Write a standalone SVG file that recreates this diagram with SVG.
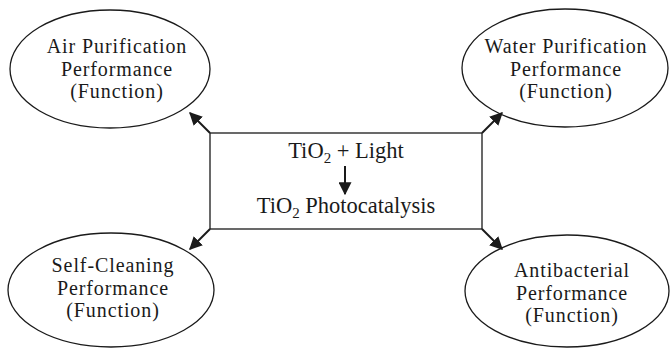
<svg xmlns="http://www.w3.org/2000/svg" width="671" height="348" viewBox="0 0 671 348">
<style>
.n{fill:#fff;stroke:#1a1a1a;stroke-width:1.3}
.t{font-family:"Liberation Serif","Times New Roman",serif;font-size:22.5px;fill:#1a1a1a;text-anchor:middle}
.e{font-family:"Liberation Serif","Times New Roman",serif;font-size:20px;letter-spacing:0.9px;fill:#1a1a1a;text-anchor:middle}
.c{stroke:#1a1a1a;stroke-width:2;fill:none}
</style>
<defs>
<marker id="ah2" viewBox="0 0 10 10" refX="9" refY="5" markerWidth="13" markerHeight="13" markerUnits="userSpaceOnUse" orient="auto">
<path d="M0,0 L10,5 L0,10 z" fill="#1a1a1a"/>
</marker>
</defs>
<g id="center">
<rect class="n" x="210" y="133" width="272" height="96"/>
<text class="t" x="346" y="158">TiO<tspan font-size="15" dy="5">2</tspan><tspan dy="-5"> + Light</tspan></text>
<text class="t" x="346" y="213">TiO<tspan font-size="15" dy="5">2</tspan><tspan dy="-5"> Photocatalysis</tspan></text>
<line class="c" x1="345" y1="166" x2="345" y2="194" marker-end="url(#ah2)"/>
</g>
<g id="air">
<ellipse class="n" cx="110" cy="69" rx="100" ry="59"/>
<text class="e"><tspan x="117" y="53">Air Purification</tspan><tspan x="117" dy="22.5">Performance</tspan><tspan x="117" dy="22.5">(Function)</tspan></text>
</g>
<g id="water">
<ellipse class="n" cx="565" cy="68" rx="103" ry="59"/>
<text class="e"><tspan x="566" y="53">Water Purification</tspan><tspan x="566" dy="22.5">Performance</tspan><tspan x="566" dy="22.5">(Function)</tspan></text>
</g>
<g id="selfclean">
<ellipse class="n" cx="111" cy="290" rx="103" ry="57"/>
<text class="e"><tspan x="113" y="272">Self-Cleaning</tspan><tspan x="113" dy="22.5">Performance</tspan><tspan x="113" dy="22.5">(Function)</tspan></text>
</g>
<g id="antibac">
<ellipse class="n" cx="567" cy="291" rx="102" ry="56"/>
<text class="e"><tspan x="572" y="277">Antibacterial</tspan><tspan x="572" dy="22.5">Performance</tspan><tspan x="572" dy="22.5">(Function)</tspan></text>
</g>
<g id="connectors">
<line class="c" x1="210" y1="133" x2="190" y2="113" marker-end="url(#ah2)"/>
<line class="c" x1="482" y1="133" x2="502" y2="113" marker-end="url(#ah2)"/>
<line class="c" x1="210" y1="229" x2="190" y2="249" marker-end="url(#ah2)"/>
<line class="c" x1="482" y1="229" x2="502" y2="249" marker-end="url(#ah2)"/>
</g>
</svg>
